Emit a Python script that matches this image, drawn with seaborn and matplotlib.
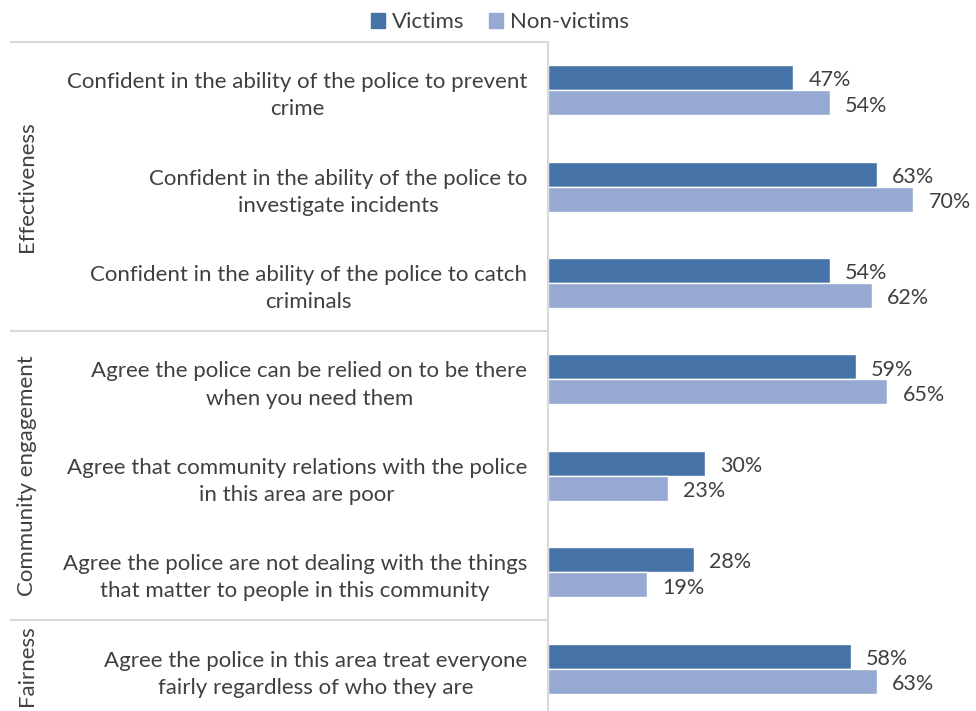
import matplotlib
matplotlib.use("Agg")
import matplotlib.pyplot as plt
import matplotlib.transforms as mtransforms
import pandas as pd
import seaborn as sns

# Survey statements, grouped by theme
statements = [
    "Confident in the ability of the police to prevent\ncrime",
    "Confident in the ability of the police to\ninvestigate incidents",
    "Confident in the ability of the police to catch\ncriminals",
    "Agree the police can be relied on to be there\nwhen you need them",
    "Agree that community relations with the police\nin this area are poor",
    "Agree the police are not dealing with the things\nthat matter to people in this community",
    "Agree the police in this area treat everyone\nfairly regardless of who they are",
]
themes = ["Effectiveness", "Community engagement", "Fairness"]
theme_sizes = [3, 3, 1]

victims = [47, 63, 54, 59, 30, 28, 58]
non_victims = [54, 70, 62, 65, 23, 19, 63]
series_names = ["Victims", "Non-victims"]

df = pd.DataFrame({
    "statement": statements * 2,
    "group": [series_names[0]] * len(statements) + [series_names[1]] * len(statements),
    "pct": victims + non_victims,
})

sns.set_theme(style="white")
plt.rcParams["font.family"] = ["Lato", "DejaVu Sans"]
text_color = "#404040"
grid_color = "#d9d9d9"
palette = {"Victims": "#4673a7", "Non-victims": "#95a9d2"}
fs = 16

W, H = 976, 711
fig = plt.figure(figsize=(W / 100, H / 100), dpi=100)
left_px, top_px = 548, 42
cat_px = 96.4
n = len(statements)
ax = fig.add_axes([left_px / W, 1 - (top_px + n * cat_px) / H,
                   (W - left_px) / W, n * cat_px / H])

sns.barplot(data=df, x="pct", y="statement", hue="group", orient="h",
            palette=palette, width=0.52, saturation=1, ax=ax,
            legend=False, errorbar=None)

ax.set_xlim(0, (W - left_px) / 5.22)
ax.set_ylim(n - 0.5, -0.5)
ax.set_xlabel("")
ax.set_ylabel("")
ax.set_xticks([])

for lab in ax.get_yticklabels():
    lab.set_multialignment("center")
    lab.set_color(text_color)
    lab.set_fontsize(fs)
    lab.set_linespacing(1.45)
ax.tick_params(axis="y", length=0, pad=15)

for side in ["top", "right", "bottom"]:
    ax.spines[side].set_visible(False)
ax.spines["left"].set_color(grid_color)
ax.spines["left"].set_linewidth(1.5)

# Value labels, nudged slightly below the bar centre
for cont, vals in zip(ax.containers, [victims, non_victims]):
    anns = ax.bar_label(cont, labels=[f"{v}%" for v in vals], padding=11,
                        color=text_color, fontsize=15.5)
    for a in anns:
        a.xyann = (11, -2)

# Theme separators and theme titles on the left
trans = mtransforms.blended_transform_factory(ax.transAxes, ax.transData)
x0 = (10 - left_px) / (W - left_px)
bounds = [-0.5]
for s in theme_sizes:
    bounds.append(bounds[-1] + s)
for b in bounds[:-1]:
    ax.plot([x0, 0], [b, b], transform=trans, color=grid_color,
            lw=1.5, clip_on=False, solid_capstyle="butt")
xt = (27 - left_px) / (W - left_px)
for name, lo, hi in zip(themes, bounds[:-1], bounds[1:]):
    ax.text(xt, (lo + hi) / 2 if name != "Fairness" else lo + 0.47, name,
            transform=trans, rotation=90, ha="center", va="center",
            color=text_color, fontsize=fs, clip_on=False)

# Legend
handles = [plt.Rectangle((0, 0), 1, 1, color=palette[s]) for s in series_names]
fig.legend(handles, series_names, loc="center", bbox_to_anchor=(0.512, 1 - 22 / H),
           ncol=2, frameon=False, handlelength=0.65, handleheight=0.65,
           handletextpad=0.3, columnspacing=1.1, fontsize=fs,
           labelcolor=text_color)

fig.savefig("out.png", dpi=100)
